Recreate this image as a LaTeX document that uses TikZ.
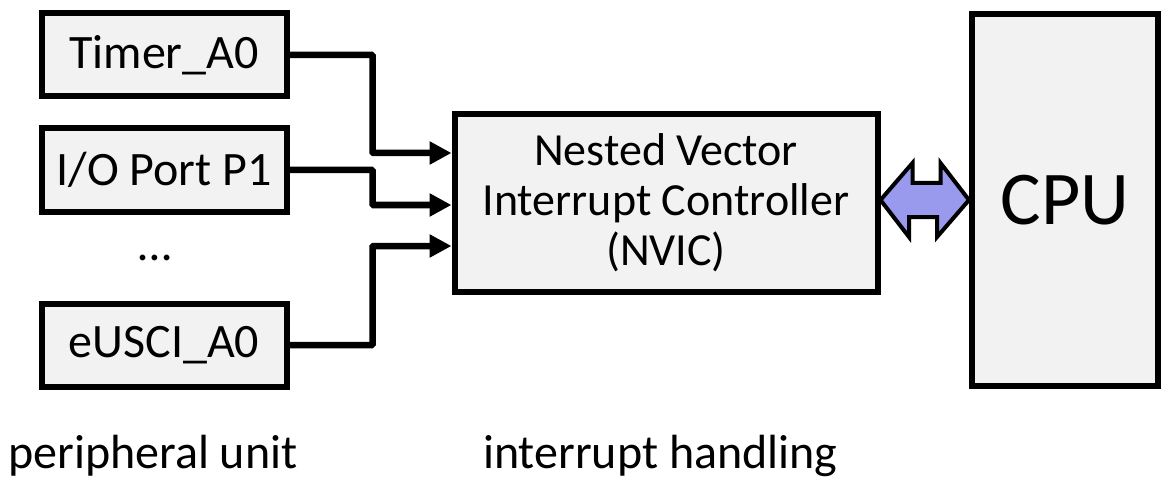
\documentclass[tikz,border=0pt]{standalone}
\usepackage{fontspec}
\setmainfont{Carlito}
\usetikzlibrary{arrows.meta}
\definecolor{boxfill}{HTML}{F2F2F2}
\definecolor{arrfill}{HTML}{9999EE}
\tikzset{
  box/.style={draw=black, line width=6pt, fill=boxfill, inner sep=0pt, align=center, font=\fontsize{48}{54}\selectfont},
  conn/.style={line width=6.5pt, -{Triangle[length=22pt,width=22pt]}, rounded corners=1pt},
  lbl/.style={font=\fontsize{48}{54}\selectfont, inner sep=0pt},
}
\begin{document}
\begin{tikzpicture}[x=1pt,y=-1pt]
\useasboundingbox (0,0) rectangle (1176,484);
\node[box, minimum width=245pt, minimum height=83pt] (timer) at (164,55) {Timer\_A0};
\node[box, minimum width=245pt, minimum height=83pt] (io) at (164,170) {I/O Port P1};
\node[lbl] (dots) at (155,258) {…};
\node[box, minimum width=245pt, minimum height=83pt] (eusci) at (164,345) {eUSCI\_A0};
\node[box, minimum width=423pt, minimum height=177pt, font=\fontsize{46}{50}\selectfont] (nvic) at (666,203) {Nested Vector\\Interrupt Controller\\(NVIC)};
\node[box, minimum width=186pt, minimum height=372pt, font=\fontsize{76}{80}\selectfont] (cpu) at (1065,200) {CPU};
\node[lbl, anchor=base west] (pu) at (8,468) {peripheral unit};
\node[lbl, anchor=base west] (ih) at (483,468) {interrupt handling};
\coordinate (in1) at (nvic.west |- 0,153);
\coordinate (in2) at (nvic.west |- 0,205);
\coordinate (in3) at (nvic.west |- 0,246);
\draw[conn] (timer.east) -- ++(83,0) |- (in1);
\draw[conn] (io.east) -- ++(83,0) |- (in2);
\draw[conn] (eusci.east) -- ++(83,0) |- (in3);
\coordinate (L) at (nvic.east |- 0,200);
\coordinate (R) at (cpu.west |- 0,200);
\draw[line width=4pt, fill=arrfill, line join=miter]
  (L) -- ++(32,-37) -- ++(0,20) -- ++(28,0) -- ++(0,-20) -- (R)
  -- ++(-32,37) -- ++(0,-20) -- ++(-28,0) -- ++(0,20) -- cycle;
\end{tikzpicture}
\end{document}
